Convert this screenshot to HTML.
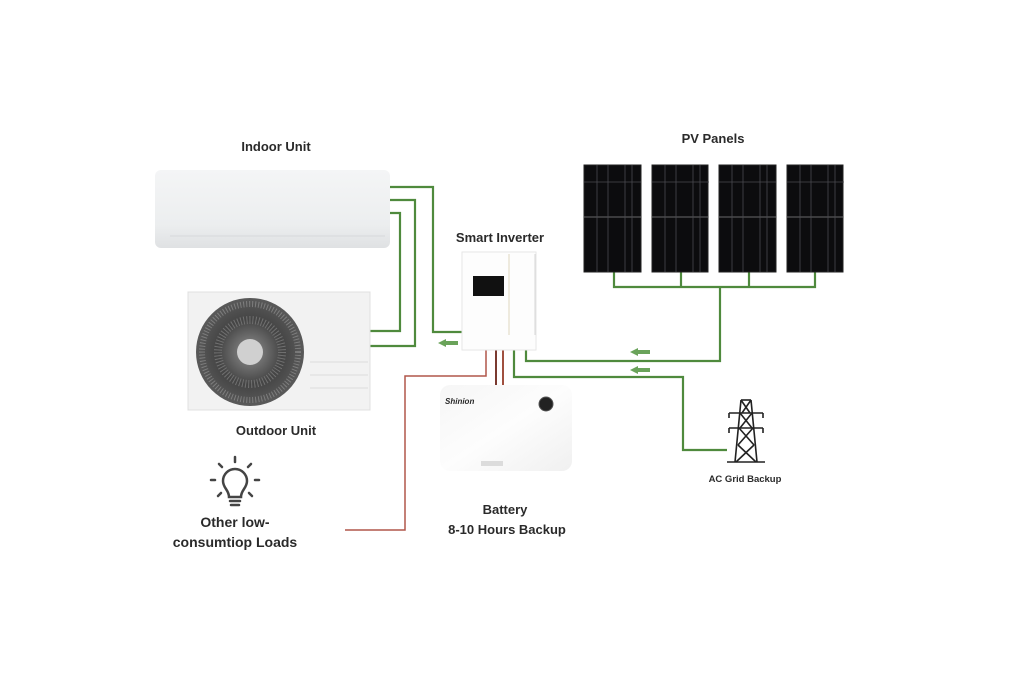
<!DOCTYPE html>
<html><head><meta charset="utf-8"><style>
html,body{margin:0;padding:0;background:#fff;width:1024px;height:685px;overflow:hidden}
text{font-family:"Liberation Sans",sans-serif;font-weight:bold;fill:#2a2a2a}
</style></head><body>
<svg width="1024" height="685" viewBox="0 0 1024 685" xmlns="http://www.w3.org/2000/svg">
<defs>
<linearGradient id="ind" x1="0" y1="0" x2="0" y2="1"><stop offset="0" stop-color="#f4f5f6"/><stop offset="0.7" stop-color="#eceeef"/><stop offset="1" stop-color="#dfe1e3"/></linearGradient>
<linearGradient id="bat" x1="0" y1="0" x2="1" y2="1"><stop offset="0" stop-color="#f6f6f6"/><stop offset="0.5" stop-color="#fdfdfd"/><stop offset="1" stop-color="#f0f0f0"/></linearGradient>
<radialGradient id="fan"><stop offset="0.2" stop-color="#777"/><stop offset="0.6" stop-color="#444"/><stop offset="1" stop-color="#5a5a5a"/></radialGradient>
<g id="pgrid" stroke="#4a4a50" stroke-width="0.8">
<line x1="0" y1="17" x2="57" y2="17"/><line x1="0" y1="52" x2="57" y2="52" stroke="#888"/>
<line x1="13" y1="0" x2="13" y2="107"/><line x1="24" y1="0" x2="24" y2="107"/><line x1="41" y1="0" x2="41" y2="107"/><line x1="48" y1="0" x2="48" y2="107"/>
</g>
</defs>

<text x="276" y="151" font-size="13" text-anchor="middle">Indoor Unit</text>
<text x="713" y="143" font-size="13" text-anchor="middle">PV Panels</text>
<text x="500" y="242" font-size="13" text-anchor="middle">Smart Inverter</text>
<text x="276" y="435" font-size="13" text-anchor="middle">Outdoor Unit</text>
<text x="745" y="482" font-size="9.5" text-anchor="middle">AC Grid Backup</text>
<text x="505" y="514" font-size="13" text-anchor="middle">Battery</text>
<text x="507" y="534" font-size="13" text-anchor="middle">8-10 Hours Backup</text>
<text x="235" y="527" font-size="14" text-anchor="middle">Other low-</text>
<text x="235" y="547" font-size="14" text-anchor="middle">consumtiop Loads</text>

<g fill="none" stroke="#4f8a3d" stroke-width="2.2">
<polyline points="390,187 433,187 433,332 463,332"/>
<polyline points="390,200 415,200 415,346 370,346"/>
<polyline points="390,213 400,213 400,331 370,331"/>
<polyline points="614,271 614,287 815,287 815,271"/>
<line x1="681" y1="271" x2="681" y2="287"/>
<line x1="749" y1="271" x2="749" y2="287"/>
<polyline points="720,287 720,361 526,361 526,350"/>
<polyline points="514,350 514,377 683,377 683,450 727,450"/>
</g>
<g fill="#6aa35a">
<polygon points="438,343 446,339 446,341 458,341 458,345 446,345 446,347"/>
<polygon points="630,352 638,348 638,350 650,350 650,354 638,354 638,356"/>
<polygon points="630,370 638,366 638,368 650,368 650,372 638,372 638,374"/>
</g>
<polyline points="486,350 486,376 405,376 405,530 345,530" fill="none" stroke="#b0574a" stroke-width="1.5"/>
<line x1="496" y1="350" x2="496" y2="386" stroke="#7a3a30" stroke-width="2"/>
<line x1="503" y1="350" x2="503" y2="386" stroke="#a0503f" stroke-width="2"/>

<rect x="155" y="170" width="235" height="78" rx="6" fill="url(#ind)"/>
<line x1="170" y1="236" x2="385" y2="236" stroke="#d6d8da" stroke-width="1"/>
<rect x="188" y="292" width="182" height="118" fill="#f2f2f2" stroke="#e0e0e0"/>
<g stroke="#dcdcdc"><line x1="310" y1="362" x2="368" y2="362"/><line x1="310" y1="375" x2="368" y2="375"/><line x1="310" y1="388" x2="368" y2="388"/></g>
<circle cx="250" cy="352" r="54" fill="url(#fan)"/>
<circle cx="250" cy="352" r="48" fill="none" stroke="#999" stroke-width="6" stroke-dasharray="1 2" opacity="0.6"/>
<circle cx="250" cy="352" r="32" fill="none" stroke="#999" stroke-width="8" stroke-dasharray="1 2" opacity="0.5"/>
<circle cx="250" cy="352" r="13" fill="#d0d0d0"/>

<rect x="462" y="252" width="74" height="98" fill="#fdfdfd" stroke="#e6e6e6"/>
<line x1="509" y1="254" x2="509" y2="335" stroke="#e9e4d4" stroke-width="1.5"/>
<line x1="535" y1="254" x2="535" y2="335" stroke="#d8d8d8" stroke-width="1"/>
<rect x="473" y="276" width="31" height="20" fill="#111"/>

<rect x="440" y="385" width="132" height="86" rx="10" fill="url(#bat)"/>
<circle cx="546" cy="404" r="7" fill="#222" stroke="#555"/>
<text x="445" y="404" font-size="8" font-style="italic" font-weight="normal" fill="#555">Shinion</text>
<rect x="481" y="461" width="22" height="5" fill="#dcdcdc"/>

<g fill="#0c0c0e" stroke="#222">
<rect x="584" y="165" width="57" height="107"/>
<rect x="652" y="165" width="56" height="107"/>
<rect x="719" y="165" width="57" height="107"/>
<rect x="787" y="165" width="56" height="107"/>
</g>
<use href="#pgrid" x="584" y="165"/>
<use href="#pgrid" x="652" y="165"/>
<use href="#pgrid" x="719" y="165"/>
<use href="#pgrid" x="787" y="165"/>

<g fill="none" stroke="#222" stroke-width="1.6">
<line x1="741" y1="400" x2="735" y2="462"/><line x1="751" y1="400" x2="757" y2="462"/>
<line x1="741" y1="400" x2="751" y2="400"/>
<line x1="727" y1="462" x2="765" y2="462"/>
<line x1="729" y1="413" x2="763" y2="413"/><line x1="729" y1="428" x2="763" y2="428"/>
<line x1="741" y1="400" x2="750" y2="413"/><line x1="751" y1="400" x2="742" y2="413"/>
<line x1="740" y1="413" x2="752" y2="428"/><line x1="752" y1="413" x2="740" y2="428"/>
<line x1="739" y1="428" x2="754" y2="445"/><line x1="753" y1="428" x2="738" y2="445"/>
<line x1="738" y1="445" x2="756" y2="462"/><line x1="754" y1="445" x2="736" y2="462"/>
<line x1="729" y1="413" x2="729" y2="418"/><line x1="763" y1="413" x2="763" y2="418"/>
<line x1="729" y1="428" x2="729" y2="433"/><line x1="763" y1="428" x2="763" y2="433"/>
</g>

<g fill="none" stroke="#444" stroke-width="2.5" stroke-linecap="round">
<path d="M229,497 C229,490 223,488 223,481 A12,12 0 1 1 247,481 C247,488 241,490 241,497 Z"/>
<line x1="230" y1="501" x2="240" y2="501"/><line x1="231" y1="505" x2="239" y2="505"/>
<line x1="235" y1="457" x2="235" y2="462"/>
<line x1="219" y1="464" x2="222" y2="467"/><line x1="251" y1="464" x2="248" y2="467"/>
<line x1="211" y1="480" x2="215" y2="480"/><line x1="255" y1="480" x2="259" y2="480"/>
<line x1="218" y1="496" x2="221" y2="493"/><line x1="252" y1="496" x2="249" y2="493"/>
</g>
</svg>
</body></html>
